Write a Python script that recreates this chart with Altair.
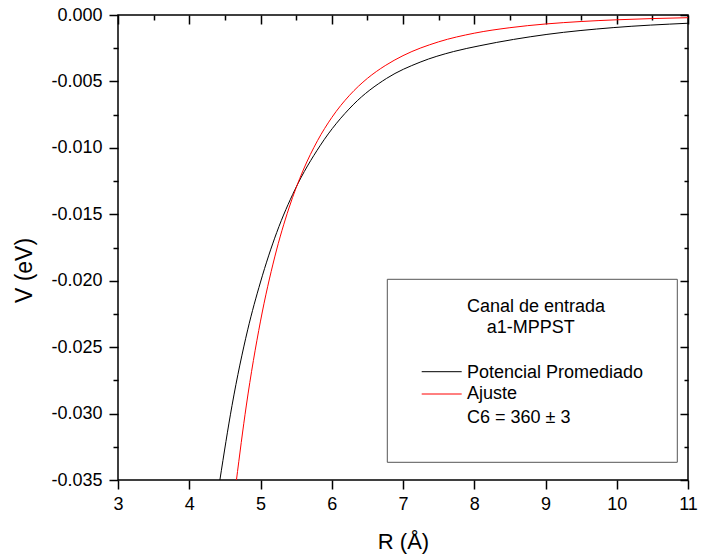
import altair as alt
import pandas as pd

# Data
black_R = [4.43, 4.60, 4.82, 5.00, 5.227, 5.484, 5.835, 6.30, 6.77, 7.24, 7.71, 8.08, 9.02, 9.95, 11.0]
black_V = [-0.0350, -0.0294, -0.0237, -0.0201, -0.01638, -0.01314, -0.00985, -0.00676, -0.00477,
           -0.00355, -0.00275, -0.00231, -0.00146, -0.00095, -0.00062]

red_R = [4.66, 4.80, 5.00, 5.20, 5.40, 5.60, 5.80, 6.00, 6.25, 6.50, 6.75, 7.00, 7.50,
         8.00, 8.50, 9.00, 9.50, 10.0, 10.5, 11.0]
red_V = [-0.0351, -0.02943, -0.02304, -0.01821, -0.01452, -0.01167, -0.00946, -0.00772,
         -0.00604, -0.00477, -0.00381, -0.00306, -0.00202, -0.00137, -0.000955, -0.000677,
         -0.000490, -0.000360, -0.000269, -0.000203]

series_names = ["Potencial Promediado", "Ajuste"]
series_colors = ["#000000", "#ff0000"]

x_major = [3, 4, 5, 6, 7, 8, 9, 10, 11]
x_minor = [3.5, 4.5, 5.5, 6.5, 7.5, 8.5, 9.5, 10.5]
y_major = [-0.035, -0.030, -0.025, -0.020, -0.015, -0.010, -0.005, 0.0]
y_minor = [-0.0325, -0.0275, -0.0225, -0.0175, -0.0125, -0.0075, -0.0025]

legend_title1 = "Canal de entrada"
legend_title2 = "a1-MPPST"
legend_note = "C6 = 360 \u00b1 3"

df = pd.DataFrame({
    "R": black_R + red_R,
    "V": black_V + red_V,
    "serie": [series_names[0]] * len(black_R) + [series_names[1]] * len(red_R),
})

FONT = "Liberation Sans"
xs = alt.Scale(domain=[3, 11], nice=False, zero=False)
ys = alt.Scale(domain=[-0.035, 0.0], nice=False, zero=False)

ylabel_expr = "replace(format(datum.value, '.3f'), '\u2212', '-')"

lines = alt.Chart(df).mark_line(strokeWidth=1, clip=True, interpolate="monotone").encode(
    x=alt.X("R:Q", scale=xs, axis=alt.Axis(orient="bottom", values=x_major, title="R (Å)",
                                          tickSize=9, labelPadding=6, format="d", labelFlush=False,
                                          titleY=68, titleBaseline="alphabetic")),
    y=alt.Y("V:Q", scale=ys, axis=alt.Axis(orient="left", values=y_major, title="V (eV)",
                                          tickSize=9, labelPadding=7, labelExpr=ylabel_expr,
                                          labelFlush=False, titleFontSize=23,
                                          titleX=-87, titleY=255, titleBaseline="alphabetic",
                                          titleAlign="center", titleAngle=270)),
    color=alt.Color("serie:N", scale=alt.Scale(domain=series_names, range=series_colors), legend=None),
    detail="serie:N",
)

def ghost(xaxis, yaxis):
    return alt.Chart(df).mark_point(opacity=0, size=1).encode(
        x=alt.X("R:Q", scale=xs, axis=xaxis),
        y=alt.Y("V:Q", scale=ys, axis=yaxis),
    )

left_minor = ghost(None, alt.Axis(orient="left", values=y_minor, tickSize=5, labels=False, title=None))
top_major = ghost(alt.Axis(orient="top", values=x_major, tickSize=9, offset=-9, labels=False, title=None), None)
top_minor = ghost(alt.Axis(orient="top", values=x_minor, tickSize=5, offset=-5, labels=False, title=None), None)
right_major = ghost(None, alt.Axis(orient="right", values=y_major, tickSize=8, offset=-8, labels=False, title=None))
right_minor = ghost(None, alt.Axis(orient="right", values=y_minor, tickSize=4, offset=-4, labels=False, title=None))

one = pd.DataFrame({"a": [0]})

box = alt.Chart(one).mark_rect(fill="white", stroke="#555555", strokeWidth=1).encode(
    x=alt.value(269.3), x2=alt.value(559.3), y=alt.value(264.3), y2=alt.value(447.3)
)

def txt(s, x, y):
    return alt.Chart(one).mark_text(text=s, align="left", baseline="alphabetic", font=FONT,
                                    fontSize=18, color="black").encode(x=alt.value(x), y=alt.value(y))

def sample(color, y):
    return alt.Chart(one).mark_rule(color=color, strokeWidth=1).encode(
        x=alt.value(303.7), x2=alt.value(343.7), y=alt.value(y)
    )

chart = alt.layer(
    lines, left_minor, top_major, top_minor, right_major, right_minor,
    box,
    txt(legend_title1, 349, 296.7),
    txt(legend_title2, 368.7, 318.3),
    sample(series_colors[0], 356.7),
    txt(series_names[0], 349, 363.3),
    sample(series_colors[1], 379),
    txt(series_names[1], 349, 384.3),
    txt(legend_note, 349, 408.3),
).resolve_axis(x="independent", y="independent").properties(
    width=570, height=465,
    autosize=alt.AutoSizeParams(type="none"),
    padding={"left": 118, "top": 15, "right": 22, "bottom": 78},
    background="white",
).configure_view(
    stroke="black", strokeWidth=1.5
).configure_axis(
    domain=False, grid=False, tickColor="black", tickWidth=1.5,
    labelFont=FONT, labelFontSize=18, labelColor="black",
    titleFont=FONT, titleFontSize=22, titleFontWeight="normal", titleColor="black",
)

chart.save("out.html", embed_options={"renderer": "svg", "actions": False})
